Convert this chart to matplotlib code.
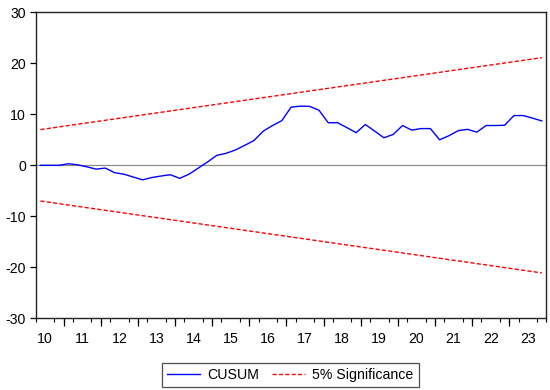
import matplotlib
matplotlib.use("Agg")
import matplotlib.pyplot as plt
import numpy as np
import pandas as pd

# ---- data ----
cusum = [0.0, 0.0, 0.0, 0.3, 0.1, -0.3, -0.75, -0.55, -1.45, -1.75,
         -2.3, -2.85, -2.4, -2.1, -1.85, -2.55, -1.75, -0.55, 0.65, 1.95,
         2.35, 3.0, 3.9, 4.85, 6.7, 7.8, 8.75, 11.4, 11.6, 11.55,
         10.8, 8.35, 8.35, 7.4, 6.4, 8.0, 6.7, 5.4, 6.05, 7.8,
         6.9, 7.2, 7.2, 5.0, 5.8, 6.8, 7.05, 6.5, 7.8, 7.8,
         7.85, 9.75, 9.75, 9.25, 8.7]
upper_bound = [7.0, 21.1]     # at first and last observation
lower_bound = [-7.0, -21.1]
first_period = "2010Q2"
year_labels = ["10", "11", "12", "13", "14", "15", "16", "17",
               "18", "19", "20", "21", "22", "23"]
yticks = [-30, -20, -10, 0, 10, 20, 30]

periods = pd.period_range(first_period, periods=len(cusum), freq="Q")
x = np.array([p.year + (p.quarter - 1) / 4 + 0.125 for p in periods])
bx = [x[0], x[-1]]

plt.rcParams["font.family"] = ["Liberation Sans", "DejaVu Sans"]
fig = plt.figure(figsize=(5.5, 3.9), dpi=100)
ax = fig.add_axes([0.065, 0.1838, 0.9285, 0.7847])

ax.axhline(0, color="#8c8c8c", lw=0.9, zorder=1)
ax.plot(x, cusum, color="#0000ff", lw=1.0, label="CUSUM", zorder=3)
ax.plot(bx, upper_bound, color="#ff0000", lw=1.0, dashes=(3, 1.6),
        label="5% Significance", zorder=2)
ax.plot(bx, lower_bound, color="#ff0000", lw=1.0, dashes=(3, 1.6), zorder=2)

xmin = periods[0].year + (periods[0].quarter - 1) / 4
xmax = periods[-1].year + periods[-1].quarter / 4
ax.set_xlim(xmin, xmax)
ax.set_ylim(-30, 30)
ax.set_yticks(yticks)
ax.set_yticklabels([str(v) for v in yticks], fontsize=10.2)
ax.tick_params(axis="y", direction="out", length=4.5, width=0.9, pad=2.5)

years = [2010 + i for i in range(len(year_labels))]
ax.set_xticks([y + 0.5 for y in years])
ax.set_xticklabels(year_labels, fontsize=10.2)
ax.tick_params(axis="x", which="major", length=0, pad=10)
ax.set_xticks(np.arange(np.ceil(xmin * 4) / 4, xmax + 0.01, 0.25), minor=True)
ax.tick_params(axis="x", which="minor", direction="out", length=3, width=0.8)

sec = ax.secondary_xaxis("bottom")
sec.set_xticks([y for y in years if xmin < y <= xmax])
sec.set_xticklabels([])
sec.tick_params(axis="x", direction="out", length=6, width=0.9)
sec.spines["bottom"].set_visible(False)

for s in ax.spines.values():
    s.set_color("#222222")
    s.set_linewidth(1.0)

leg = fig.legend(loc="center", bbox_to_anchor=(0.528, 0.0385), ncol=2,
                 fontsize=10.2, frameon=True, fancybox=False, shadow=False,
                 handlelength=2.3, handletextpad=0.55, columnspacing=0.9,
                 borderpad=0.35, edgecolor="#222222")
leg.get_frame().set_linewidth(0.9)

fig.savefig("out.png", dpi=100)
